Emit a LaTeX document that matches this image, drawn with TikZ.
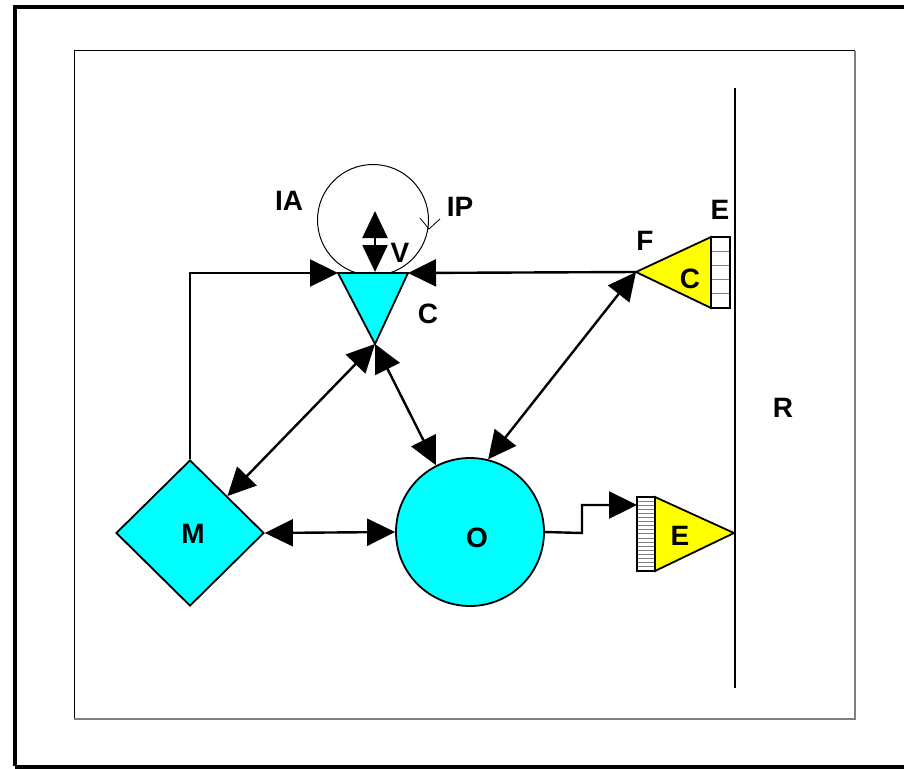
\documentclass[tikz,border=0pt]{standalone}
\usepackage{fontspec}
\setmainfont{Liberation Sans}
\usetikzlibrary{arrows.meta,shapes.geometric}
\definecolor{aqua}{RGB}{0,255,255}
\definecolor{yel}{RGB}{255,255,0}
\tikzset{
  lbl/.style={font=\fontsize{28}{30}\selectfont\bfseries, inner sep=0pt},
  shp/.style={draw=black, line width=1.8pt},
  conn/.style={line width=2.4pt, -{Triangle[length=28pt,width=27pt]}},
  biconn/.style={line width=2.4pt, {Triangle[length=28pt,width=27pt]}-{Triangle[length=28pt,width=27pt]}},
  hatch/.style={draw=gray, line width=1pt},
}
\begin{document}
\begin{tikzpicture}[x=1pt,y=-1pt]
\useasboundingbox (0,0) rectangle (904,768);
\clip (0,0) rectangle (904,768);
% frames
\draw[line width=4pt] (15,766) -- (15,7) -- (930,7);
\draw[line width=4pt] (15,766.5) -- (930,766.5);
\draw[line width=1pt] (74,719) -- (74,51) -- (855,51);
\draw[line width=1.2pt, gray] (855,51) -- (855,719) -- (74,719);
% R line
\coordinate (Rt) at (735,88);
\coordinate (Rb) at (735,688);
\draw[line width=1.5pt] (Rt) -- (Rb);
\node[lbl] (R) at (783,408) {R};
% loop circle
\node[draw, circle, line width=1pt, minimum size=111pt, inner sep=0pt] (loop) at (373,220) {};
\coordinate (la) at (420,218);
\coordinate (lt) at (429,229);
\coordinate (lb) at (440,219);
\draw[line width=0.8pt] (la) -- (lt) -- (lb);
% triangle C (cyan)
\coordinate (Ctl) at (338,273);
\coordinate (Ctr) at (408,273);
\coordinate (Cb) at (375,344);
\filldraw[shp, fill=aqua] (Ctl) -- (Ctr) -- (Cb) -- cycle;
\node[lbl] (Clab) at (428,314) {C};
% V arrow
\coordinate (Vt) at (375,211);
\coordinate (Vb) at (375,272);
\draw[line width=2.4pt, {Triangle[length=27pt,width=25pt]}-{Triangle[length=27pt,width=25pt]}] (Vt) -- (Vb);
\node[lbl] (V) at (400,253) {V};
\node[lbl] (IA) at (289,201) {IA};
\node[lbl] (IP) at (460,207) {IP};
% yellow triangle C with hatch box
\coordinate (F) at (636,272);
\coordinate (Yt) at (711,237);
\coordinate (Yb) at (711,308);
\filldraw[shp, fill=yel] (F) -- (Yt) -- (Yb) -- cycle;
\foreach \i in {1,...,4} {\draw[hatch] (711,237+\i*14.2) -- (730,237+\i*14.2);}
\draw[shp, line width=1.5pt] (711,237) rectangle (730,308);
\node[lbl] (Cy) at (690,279) {C};
\node[lbl] (Etop) at (720,210) {E};
\node[lbl] (Flab) at (645,241) {F};
% O circle
\node[shp, circle, fill=aqua, minimum size=148pt, inner sep=0pt] (O) at (470,532) {};
\node[lbl] at (477,538) {O};
% M diamond
\node[shp, diamond, fill=aqua, minimum width=148pt, minimum height=146pt, inner sep=0pt] (M) at (190,533) {};
\node[lbl] at (193,534) {M};
% yellow E with hatch box
\coordinate (Ea) at (734,533);
\coordinate (Et) at (655,497);
\coordinate (Eb) at (655,571);
\filldraw[shp, fill=yel] (Et) -- (Ea) -- (Eb) -- cycle;
\foreach \i in {1,...,17} {\draw[hatch] (637,497+\i*4.11) -- (655,497+\i*4.11);}
\draw[shp, line width=1.3pt] (637,497) rectangle (655,571);
\node[lbl] at (680,536) {E};
\coordinate (Eh) at (637,505);
% connectors
\draw[conn] (M.north) -- (190,273) -- (Ctl);
\draw[conn] (F) -- (Ctr);
\draw[biconn] (Cb) -- (M.north east);
\draw[biconn] (Cb) -- (O.117);
\draw[biconn] (F) -- (O.76);
\draw[biconn] (M.east) -- (O.west);
\draw[conn] (O.east) -- (582,533) -- (582,505) -- (Eh);
\end{tikzpicture}
\end{document}
